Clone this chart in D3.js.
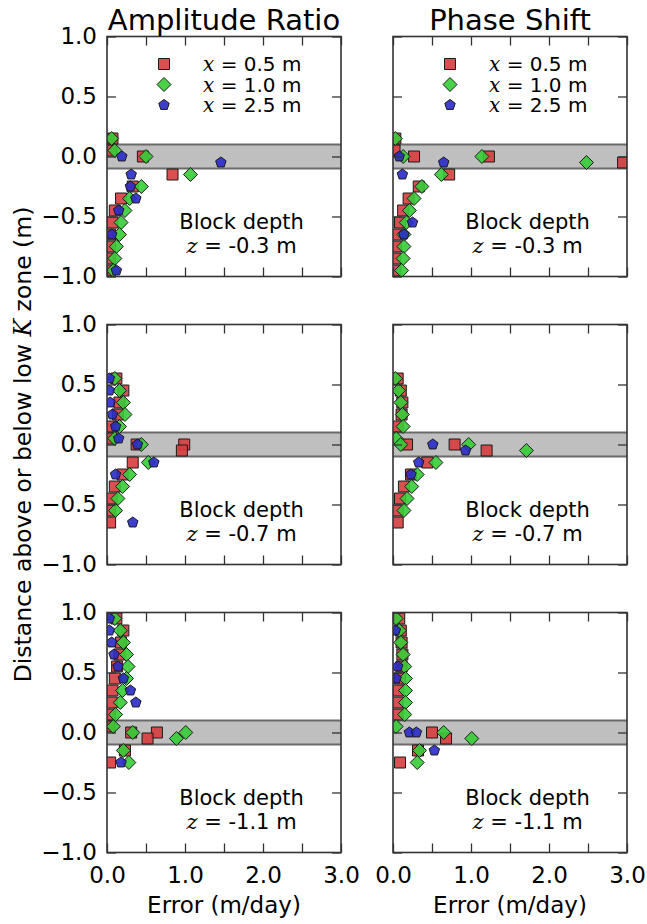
<!DOCTYPE html>
<html><head><meta charset="utf-8">
<script src="https://cdn.jsdelivr.net/npm/d3@7"></script>
<style>
body{margin:0;background:#fff;}
svg{display:block;font-family:"DejaVu Sans",sans-serif;}
.math{font-family:"DejaVu Serif","Liberation Serif",serif;font-style:italic;}
</style></head><body>
<svg id="chart" width="647" height="924"></svg>
<script>
// ---------------- data ----------------
const columnTitles = ["Amplitude Ratio", "Phase Shift"];
const blockDepths = ["-0.3", "-0.7", "-1.1"];
const seriesLabels = ["0.5", "1.0", "2.5"];
const xTicks = [0, 0.5, 1, 1.5, 2, 2.5, 3];
const xTickLabels = ["0.0", "", "1.0", "", "2.0", "", "3.0"];
const yTicks = [1, 0.5, 0, -0.5, -1];
const yTickLabels = ["1.0", "0.5", "0.0", "\u22120.5", "\u22121.0"];
const zoneBand = [-0.1, 0.1];

// [error (m/day), distance (m)]
// Amplitude ratio, z = -0.3
const amp03_x05 = [[0.07,0.15],[0.05,0.05],[0.46,0],[0.84,-0.15],[0.33,-0.25],[0.18,-0.35],[0.10,-0.45],[0.07,-0.55],[0.04,-0.65],[0.04,-0.75],[0.04,-0.85],[0.03,-0.95]];
const amp03_x10 = [[0.06,0.15],[0.10,0.05],[0.50,0],[1.07,-0.15],[0.44,-0.25],[0.29,-0.35],[0.23,-0.45],[0.18,-0.55],[0.16,-0.65],[0.12,-0.75],[0.10,-0.85],[0.08,-0.95]];
const amp03_x25 = [[0.19,0],[1.46,-0.05],[0.31,-0.15],[0.30,-0.25],[0.37,-0.35],[0.15,-0.45],[0.06,-0.65],[0.12,-0.95]];
// Phase shift, z = -0.3
const pha03_x05 = [[0.03,0.15],[0.02,0.05],[0.27,0],[1.23,0],[2.95,-0.05],[0.72,-0.15],[0.33,-0.25],[0.20,-0.35],[0.13,-0.45],[0.09,-0.55],[0.06,-0.65],[0.04,-0.75],[0.03,-0.85],[0.03,-0.95]];
const pha03_x10 = [[0.03,0.15],[0.13,0],[1.14,0],[2.48,-0.05],[0.62,-0.15],[0.37,-0.25],[0.27,-0.35],[0.21,-0.45],[0.17,-0.55],[0.14,-0.65],[0.14,-0.75],[0.13,-0.85],[0.11,-0.95]];
const pha03_x25 = [[0.08,0],[0.65,-0.05],[0.12,-0.15],[0.25,-0.55],[0.14,-0.65]];
// Amplitude ratio, z = -0.7
const amp07_x05 = [[0.12,0.55],[0.21,0.45],[0.16,0.35],[0.14,0.25],[0.06,0.15],[0.03,0.05],[0.38,0],[0.99,0],[0.96,-0.05],[0.33,-0.15],[0.20,-0.25],[0.10,-0.35],[0.06,-0.45],[0.04,-0.55],[0.04,-0.65]];
const amp07_x10 = [[0.10,0.55],[0.16,0.45],[0.21,0.35],[0.23,0.25],[0.16,0.15],[0.10,0.05],[0.44,0],[0.53,-0.15],[0.29,-0.25],[0.20,-0.35],[0.14,-0.45],[0.11,-0.55]];
const amp07_x25 = [[0.03,0.55],[0.03,0.45],[0.04,0.35],[0.07,0.25],[0.11,0.15],[0.15,0.05],[0.39,0],[0.60,-0.15],[0.11,-0.25],[0.33,-0.65]];
// Phase shift, z = -0.7
const pha07_x05 = [[0.06,0.55],[0.10,0.45],[0.12,0.35],[0.11,0.25],[0.06,0.15],[0.18,0],[0.79,0],[1.20,-0.05],[0.44,-0.15],[0.23,-0.25],[0.14,-0.35],[0.09,-0.45],[0.06,-0.55],[0.06,-0.65]];
const pha07_x10 = [[0.03,0.55],[0.07,0.45],[0.10,0.35],[0.12,0.25],[0.13,0.15],[0.04,0.05],[0.10,0],[0.97,0],[1.71,-0.05],[0.55,-0.15],[0.31,-0.25],[0.24,-0.35],[0.18,-0.45],[0.14,-0.55]];
const pha07_x25 = [[0.51,0],[0.93,-0.05],[0.33,-0.15],[0.23,-0.25]];
// Amplitude ratio, z = -1.1
const amp11_x05 = [[0.12,0.95],[0.21,0.85],[0.18,0.75],[0.16,0.65],[0.13,0.55],[0.10,0.45],[0.07,0.35],[0.06,0.25],[0.04,0.15],[0.03,0.05],[0.31,0],[0.64,0],[0.52,-0.05],[0.23,-0.15],[0.04,-0.25]];
const amp11_x10 = [[0.10,0.95],[0.17,0.85],[0.21,0.75],[0.25,0.65],[0.27,0.55],[0.25,0.45],[0.20,0.35],[0.17,0.25],[0.11,0.15],[0.08,0.05],[0.33,0],[1.01,0],[0.89,-0.05],[0.21,-0.15],[0.28,-0.25]];
const amp11_x25 = [[0.03,0.95],[0.03,0.85],[0.06,0.75],[0.09,0.65],[0.14,0.55],[0.21,0.45],[0.30,0.35],[0.37,0.25],[0.18,-0.25]];
// Phase shift, z = -1.1
const pha11_x05 = [[0.08,0.95],[0.10,0.85],[0.11,0.75],[0.12,0.65],[0.11,0.55],[0.09,0.45],[0.07,0.35],[0.06,0.25],[0.06,0.15],[0.50,0],[0.68,-0.05],[0.32,-0.15],[0.09,-0.25]];
const pha11_x10 = [[0.04,0.95],[0.08,0.85],[0.10,0.75],[0.13,0.65],[0.15,0.55],[0.16,0.45],[0.16,0.35],[0.16,0.25],[0.15,0.15],[0.04,0.05],[0.65,0],[1.01,-0.05],[0.34,-0.15],[0.31,-0.25]];
const pha11_x25 = [[0.03,0.85],[0.06,0.55],[0.04,0.45],[0.21,0],[0.30,0],[0.53,-0.15]];

const panels = [
  [[amp03_x05, amp03_x10, amp03_x25], [pha03_x05, pha03_x10, pha03_x25]],
  [[amp07_x05, amp07_x10, amp07_x25], [pha07_x05, pha07_x10, pha07_x25]],
  [[amp11_x05, amp11_x10, amp11_x25], [pha11_x05, pha11_x10, pha11_x25]]
];

// ---------------- layout / style ----------------
const colLeft = [107, 393], panelW = 234;
const rowTop = [36.5, 324.5, 612.5], panelH = 240;
const colors = ["#d63c3c", "#36cc36", "#2a2ac8"];
const frameColor = "#333";

const pentagon = {
  draw(ctx, size) {
    const r = Math.sqrt(size / 2.378);
    for (let i = 0; i < 5; i++) {
      const a = -Math.PI / 2 + i * 2 * Math.PI / 5;
      const px = r * Math.cos(a), py = r * Math.sin(a);
      if (i === 0) ctx.moveTo(px, py); else ctx.lineTo(px, py);
    }
    ctx.closePath();
  }
};
const diamond = {
  draw(ctx, size) {
    const h = Math.sqrt(size / 2);
    ctx.moveTo(0, -h); ctx.lineTo(h, 0); ctx.lineTo(0, h); ctx.lineTo(-h, 0); ctx.closePath();
  }
};
const symbols = [
  d3.symbol().type(d3.symbolSquare).size(121),
  d3.symbol().type(diamond).size(98),
  d3.symbol().type(pentagon).size(72)
];

const svg = d3.select("#chart");

function mathLabel(sel, varName, rest) {
  sel.append("tspan").attr("class", "math").text(varName);
  sel.append("tspan").text(rest);
}

panels.forEach((row, ri) => {
  row.forEach((seriesList, ci) => {
    const x = d3.scaleLinear().domain([0, 3]).range([colLeft[ci], colLeft[ci] + panelW]);
    const y = d3.scaleLinear().domain([-1, 1]).range([rowTop[ri] + panelH, rowTop[ri]]);
    const g = svg.append("g");
    const clipId = `clip${ri}${ci}`;
    svg.append("clipPath").attr("id", clipId).append("rect")
      .attr("x", x(0)).attr("y", y(1)).attr("width", panelW).attr("height", panelH);

    // low K zone band
    g.append("rect").attr("x", x(0)).attr("width", panelW)
      .attr("y", y(zoneBand[1])).attr("height", y(zoneBand[0]) - y(zoneBand[1]))
      .attr("fill", "#bfbfbf");
    zoneBand.forEach(v => g.append("line")
      .attr("x1", x(0)).attr("x2", x(3)).attr("y1", y(v)).attr("y2", y(v))
      .attr("stroke", "#6a6a6a").attr("stroke-width", 2));

    // points
    const pg = g.append("g").attr("clip-path", `url(#${clipId})`);
    seriesList.forEach((data, si) => {
      pg.selectAll(null).data(data).join("path")
        .attr("d", symbols[si])
        .attr("transform", d => `translate(${x(d[0])},${y(d[1])})`)
        .attr("fill", colors[si]).attr("fill-opacity", 0.9)
        .attr("stroke", "#1a1a1a").attr("stroke-width", 1);
    });

    // axes (ticks inward on all sides)
    const tl = 9;
    const bottom = d3.axisBottom(x).tickValues(xTicks).tickSize(-tl).tickPadding(14)
      .tickFormat((d, i) => ri === 2 ? xTickLabels[i] : "");
    const top = d3.axisTop(x).tickValues(xTicks).tickSize(-tl).tickFormat("");
    const left = d3.axisLeft(y).tickValues(yTicks).tickSize(-tl).tickPadding(10)
      .tickFormat((d, i) => ci === 0 ? yTickLabels[i] : "");
    const right = d3.axisRight(y).tickValues(yTicks).tickSize(-tl).tickFormat("");
    const styleAxis = s => {
      s.select(".domain").remove();
      s.selectAll(".tick line").attr("stroke", frameColor).attr("stroke-width", 1.3);
      s.selectAll(".tick text").attr("font-family", "DejaVu Sans").attr("font-size", 23).attr("fill", "#000");
    };
    g.append("g").attr("transform", `translate(0,${y(-1)})`).call(bottom).call(styleAxis);
    g.append("g").attr("transform", `translate(0,${y(1)})`).call(top).call(styleAxis);
    g.append("g").attr("transform", `translate(${x(0)},0)`).call(left).call(styleAxis);
    g.append("g").attr("transform", `translate(${x(3)},0)`).call(right).call(styleAxis);

    g.append("rect").attr("x", x(0)).attr("y", y(1)).attr("width", panelW).attr("height", panelH)
      .attr("fill", "none").attr("stroke", frameColor).attr("stroke-width", 1.6);

    // annotation
    const ax = x(0) + panelW * 0.575;
    g.append("text").attr("x", ax).attr("y", rowTop[ri] + 192).attr("text-anchor", "middle")
      .attr("font-size", 21).text("Block depth");
    const t2 = g.append("text").attr("x", ax).attr("y", rowTop[ri] + 216).attr("text-anchor", "middle")
      .attr("font-size", 21);
    mathLabel(t2, "z", " = " + blockDepths[ri] + " m");

    // legend in top row
    if (ri === 0) {
      const lx = x(0) + 57, tx = x(0) + 96;
      seriesLabels.forEach((lab, si) => {
        const ly = rowTop[0] + 27.5 + si * 20.5;
        g.append("path").attr("d", symbols[si]).attr("transform", `translate(${lx},${ly})`)
          .attr("fill", colors[si]).attr("fill-opacity", 0.9)
          .attr("stroke", "#1a1a1a").attr("stroke-width", 1);
        const t = g.append("text").attr("x", tx).attr("y", ly + 7).attr("font-size", 20);
        mathLabel(t, "x", " = " + lab + " m");
      });
      // column title
      svg.append("text").attr("x", x(0) + panelW / 2).attr("y", 30).attr("text-anchor", "middle")
        .attr("font-size", 29).text(columnTitles[ci]);
    }
    if (ri === 2) {
      svg.append("text").attr("x", x(0) + panelW / 2).attr("y", 913).attr("text-anchor", "middle")
        .attr("font-size", 23).text("Error (m/day)");
    }
  });
});

// y axis label
const yl = svg.append("text").attr("transform", `translate(31,${(rowTop[0] + rowTop[2] + panelH) / 2}) rotate(-90)`)
  .attr("text-anchor", "middle").attr("font-size", 23.5);
yl.append("tspan").text("Distance above or below low ");
yl.append("tspan").attr("class", "math").text("K");
yl.append("tspan").text(" zone (m)");
</script>
</body></html>
